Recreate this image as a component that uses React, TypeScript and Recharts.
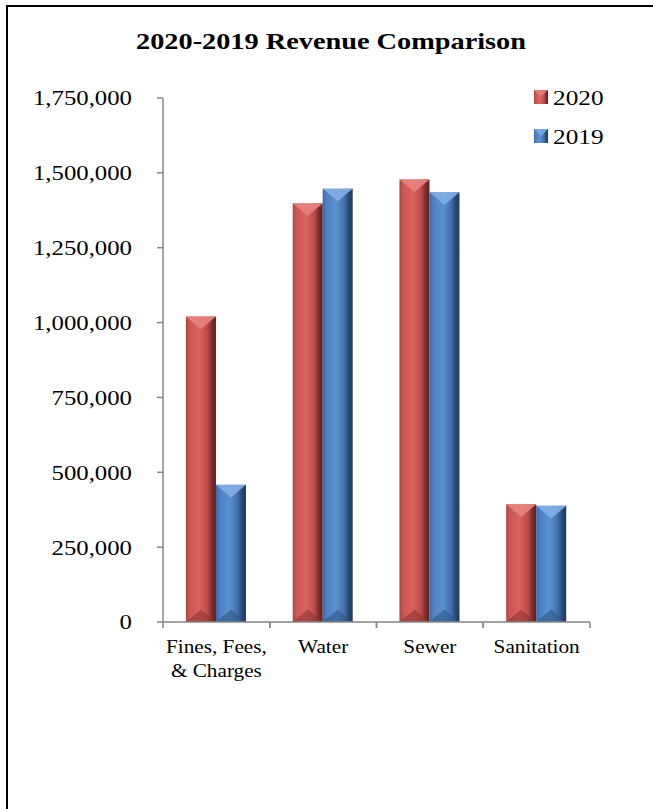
import React from "react";
import { BarChart, Bar, XAxis, YAxis } from "recharts";

// 2020-2019 Revenue Comparison — bevelled clustered columns.

const categories = ["Fines, Fees,\n& Charges", "Water", "Sewer", "Sanitation"];
const rev2020 = [1020000, 1398000, 1478000, 393000];
const rev2019 = [458000, 1447000, 1435000, 388000];
const yTicks = [0, 250000, 500000, 750000, 1000000, 1250000, 1500000, 1750000];
const seriesNames = ["2020", "2019"];

const data = categories.map((c, i) => ({ c, y2020: rev2020[i], y2019: rev2019[i] }));

const W = 653, H = 809;
const PLOT_L = 163, PLOT_R = 590, PLOT_T = 98, PLOT_B = 622;
const X_AX_H = 60;
const BAND = (PLOT_R - PLOT_L) / categories.length;
const SX = 1.18; // reference text is stretched sideways
const FONT = "'Liberation Serif', 'Times New Roman', serif";
const AXIS = "#868686";

const PAL: Record<string, { id: string; top: string; bot: string; stops: [number, string][] }> = {
  red: {
    id: "bvRed", top: "#E8837F", bot: "#8E3633",
    stops: [[0, "#A9423F"], [0.12, "#CC5753"], [0.45, "#D8635F"], [0.72, "#BC4B48"], [0.86, "#7E2F2D"], [1, "#5A201F"]],
  },
  blue: {
    id: "bvBlue", top: "#82AEE6", bot: "#2F5686",
    stops: [[0, "#3B69A3"], [0.12, "#4C80C2"], [0.45, "#5B91D2"], [0.72, "#4070AA"], [0.86, "#2A4B77"], [1, "#1E375A"]],
  },
};

function BevelShape({ x, y, width, height, pal }: any) {
  if (!height || height <= 0) return null;
  const p = PAL[pal];
  const d = Math.min(width * 0.42, height / 2);
  return (
    <g>
      <rect x={x} y={y} width={width} height={height} fill={`url(#${p.id})`} />
      <polygon points={`${x},${y} ${x + width},${y} ${x + width / 2},${y + d}`} fill={p.top} opacity={0.9} />
      <polygon points={`${x},${y + height} ${x + width},${y + height} ${x + width / 2},${y + height - d}`} fill={p.bot} opacity={0.6} />
    </g>
  );
}

function YTick({ x, y, payload }: any) {
  return (
    <g transform={`translate(${x},${y})`}>
      <text transform={`scale(${SX},1)`} textAnchor="end" dy="0.35em" fontSize={21} fontFamily={FONT} fill="#000">
        {payload.value.toLocaleString("en-US")}
      </text>
    </g>
  );
}

function XTick({ x, y, payload }: any) {
  const lines = String(payload.value).split("\n");
  return (
    <g>
      <line x1={x - BAND / 2} x2={x - BAND / 2} y1={y} y2={y + 6} stroke={AXIS} strokeWidth={1.5} />
      <line x1={x + BAND / 2} x2={x + BAND / 2} y1={y} y2={y + 6} stroke={AXIS} strokeWidth={1.5} />
      <g transform={`translate(${x},${y + 31})`}>
        <text transform={`scale(${SX},1)`} textAnchor="middle" fontSize={18} fontFamily={FONT} fill="#000">
          {lines.map((l, i) => (
            <tspan key={i} x={0} dy={i === 0 ? 0 : 24}>{l}</tspan>
          ))}
        </text>
      </g>
    </g>
  );
}

function Grad({ p }: { p: (typeof PAL)[string] }) {
  return (
    <linearGradient id={p.id} x1="0" y1="0" x2="1" y2="0">
      {p.stops.map(([o, c], i) => <stop key={i} offset={o} stopColor={c} />)}
    </linearGradient>
  );
}

export default function App() {
  const legendPal = ["red", "blue"];
  return (
    <div style={{ position: "absolute", left: 0, top: 0, width: W, height: H, overflow: "hidden", background: "#fff" }}>
      <div style={{ position: "absolute", left: 6, top: 5, width: W, height: H, borderLeft: "2px solid #000", borderTop: "2px solid #000" }} />
      <svg width={W} height={H} style={{ position: "absolute", left: 0, top: 0 }}>
        <defs>
          <Grad p={PAL.red} />
          <Grad p={PAL.blue} />
        </defs>
        <g transform="translate(331,49)">
          <text transform={`scale(${SX},1)`} textAnchor="middle" fontSize={24} fontWeight="bold" fontFamily={FONT} fill="#000">
            2020-2019 Revenue Comparison
          </text>
        </g>
        {seriesNames.map((s, i) => {
          const p = PAL[legendPal[i]];
          const top = 90 + i * 39;
          return (
            <g key={s}>
              <rect x={534} y={top} width={14} height={14} fill={`url(#${p.id})`} />
              <polygon points={`${534},${top} ${548},${top} ${541},${top + 7}`} fill={p.top} opacity={0.8} />
              <g transform={`translate(553,${top + 15})`}>
                <text transform="scale(1.15,1)" fontSize={22} fontFamily={FONT} fill="#000">{s}</text>
              </g>
            </g>
          );
        })}
      </svg>
      <div style={{ position: "absolute", left: 0, top: 0 }}>
        <BarChart
          width={W}
          height={H}
          data={data}
          margin={{ top: PLOT_T, right: W - PLOT_R, left: 0, bottom: H - PLOT_B - X_AX_H }}
          barCategoryGap="21.5%"
          barGap={0}
        >
          <defs>
            <Grad p={PAL.red} />
            <Grad p={PAL.blue} />
          </defs>
          <YAxis
            width={PLOT_L}
            domain={[0, 1750000]}
            ticks={yTicks}
            interval={0}
            tick={<YTick />}
            tickSize={6}
            tickMargin={25}
            axisLine={{ stroke: AXIS, strokeWidth: 1.5 }}
            tickLine={{ stroke: AXIS, strokeWidth: 1.5 }}
          />
          <XAxis
            dataKey="c"
            height={X_AX_H}
            interval={0}
            tick={<XTick />}
            tickSize={0}
            tickMargin={0}
            tickLine={false}
            axisLine={{ stroke: AXIS, strokeWidth: 1.5 }}
          />
          <Bar dataKey="y2020" name={seriesNames[0]} isAnimationActive={false} shape={(p: any) => <BevelShape {...p} pal="red" />} />
          <Bar dataKey="y2019" name={seriesNames[1]} isAnimationActive={false} shape={(p: any) => <BevelShape {...p} pal="blue" />} />
        </BarChart>
      </div>
    </div>
  );
}
